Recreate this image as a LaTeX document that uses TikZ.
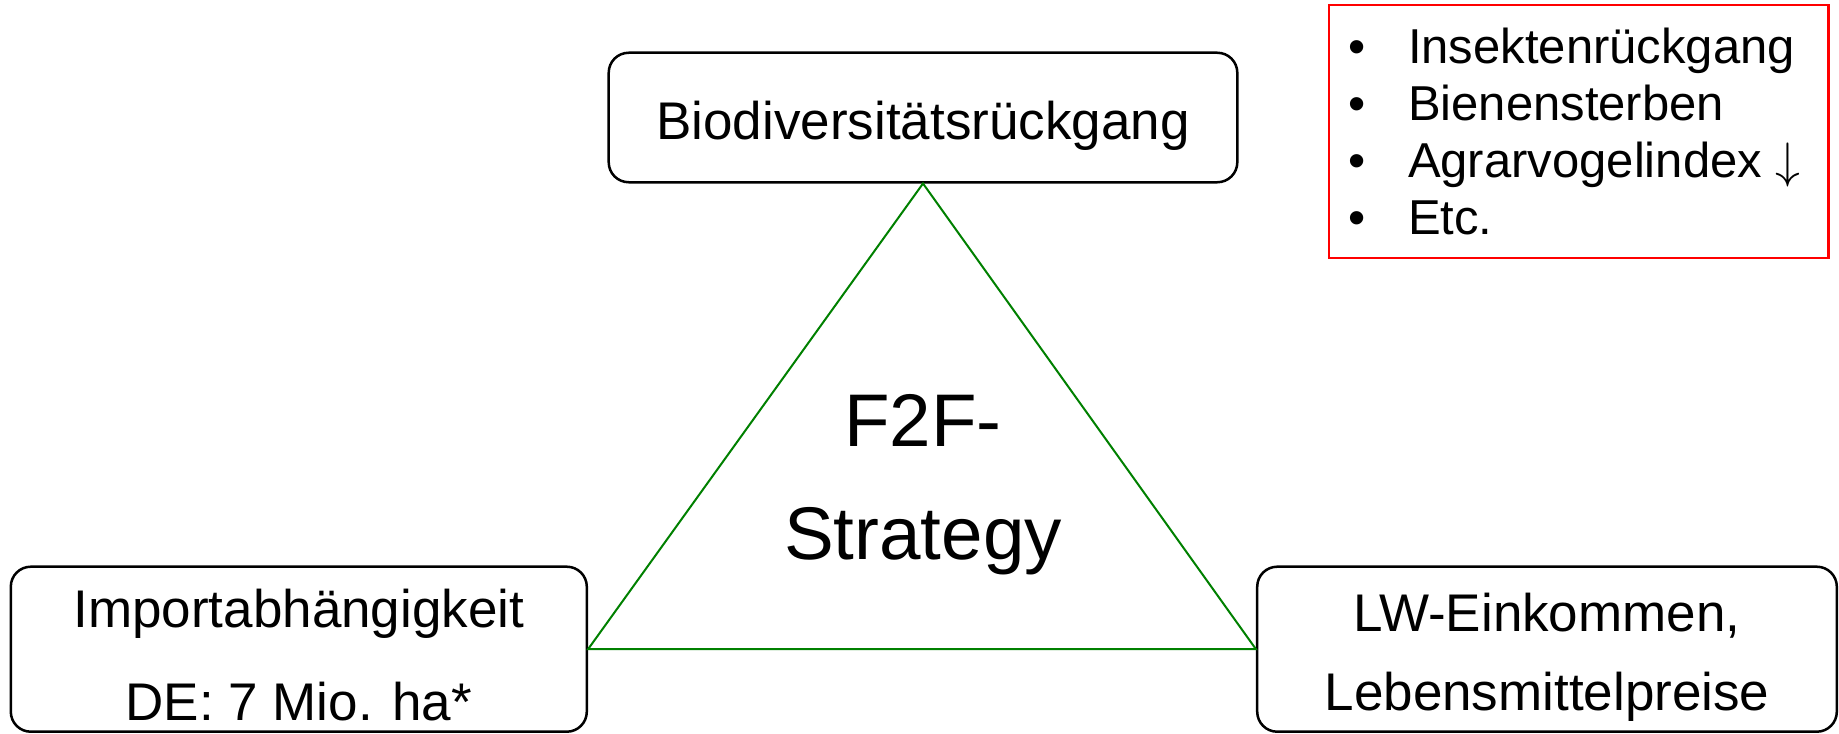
\documentclass[tikz,border=0pt]{standalone}
\usepackage{fontspec}
\setmainfont{Liberation Sans}
\usepackage{tikz}

\begin{document}
\begin{tikzpicture}[
        x=0.5pt,y=-0.5pt,
        topicbox/.style 2 args={draw,line width=1.25pt,rounded corners=10pt,minimum width=#1,minimum height=#2,align=center,inner sep=0pt},
        listitem/.style={anchor=base west,inner sep=0pt,font=\fontsize{24.5}{28}\selectfont},
        every path/.append style={line width=1pt}
    ]
        \useasboundingbox (0,0) rectangle (1839,733);

        \node [topicbox={314.3pt}{64.75pt},font=\fontsize{26.5}{32}\selectfont,text height=27.5pt,text depth=5.6pt] (bio) at (923,117.5) {Biodiversitätsrückgang};
        \node [topicbox={288pt}{82.5pt},font=\fontsize{26.5}{46.2}\selectfont] (import) at (298.8,649.2) {\rule{0pt}{25.2pt}Importabhängigkeit\\DE: 7 Mio. ha*};
        \node [topicbox={289.8pt}{82.5pt},font=\fontsize{26.5}{39.3}\selectfont] (income) at (1547,649.2) {\rule{0pt}{27pt}LW-Einkommen,\\Lebensmittelpreise};

        \draw [green!50!black] (bio.south) -- (import.east) -- (income.west) -- cycle;
        \node [font=\fontsize{37.3}{56.6}\selectfont,align=center] (f2f) at (923,485) {F2F-\\Strategy};

        \node [draw=red,line width=1.2pt,minimum width=249.7pt,minimum height=126.6pt,inner sep=0pt] (insects) at (1578.8,131.4) {};
        \foreach \entry [count=\i] in {Insektenrückgang,Bienensterben,Agrarvogelindex $\downarrow$,Etc.}{
            \node [listitem] (dot\i) at (1347.5,{63.3+57.2*(\i-1)}) {•};
            \node [listitem] (entry\i) at (1407,{63.3+57.2*(\i-1)}) {\entry};
        }
    \end{tikzpicture}
\end{document}
